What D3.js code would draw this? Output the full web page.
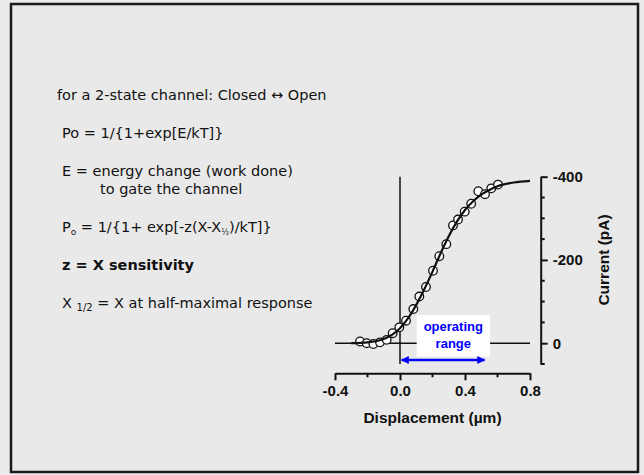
<!DOCTYPE html>
<meta charset="utf-8">
<style>
  body { margin: 0; background: #ebebeb; }
  .note { font-family: "DejaVu Sans", "Noto Sans", sans-serif; font-size: 14.5px; fill: #111; }
  .axis text { font-family: "Liberation Sans", Arial, sans-serif; font-weight: bold; font-size: 15px; fill: #111; }
  .axis path, .axis line { stroke: #111; stroke-width: 2px; }
  .title { font-family: "Liberation Sans", Arial, sans-serif; font-weight: bold; font-size: 15.5px; fill: #111; }
</style>
<body>
<script src="https://d3js.org/d3.v7.min.js"></script>
<script>
  // measured points (displacement in um, current in pA)
  var dispX = [-0.246, -0.205, -0.164, -0.123, -0.082, -0.045, -0.004, 0.037, 0.082, 0.119, 0.160,
    0.203, 0.242, 0.285, 0.326, 0.357, 0.398, 0.438, 0.482, 0.523, 0.562, 0.603];
  var currY = [-4, 0, 2, -2, -8, -24, -38, -54, -82, -112, -135,
    -174, -209, -238, -283, -297, -316, -335, -365, -358, -372, -381];

  // fitted curve
  var fitX = [-0.3, -0.2, -0.1, -0.05, 0, 0.05, 0.1, 0.15, 0.2, 0.25, 0.3, 0.35, 0.4, 0.45, 0.5, 0.55, 0.6, 0.7, 0.8];
  var fitY = [0, -2, -10, -20, -36, -60, -92, -130, -172, -216, -257, -292, -320, -341, -357, -368, -377, -386, -390];

  var xTicks = [-0.4, 0.0, 0.4, 0.8];
  var xMinor = [-0.2, 0.2, 0.6];
  var yTicks = [-400, -200, 0];
  var yMinor = [-350, -300, -250, -150, -100, -50, 50];
  var rangeEnd = 0.52;

  var notes = [
    { t: "for a 2-state channel: Closed \u2194 Open", x: 57, y: 100 },
    { t: "Po = 1/{1+exp[E/kT]}", x: 62, y: 138 },
    { t: "E = energy change (work done)", x: 62, y: 176 },
    { t: "to gate the channel", x: 100, y: 194 }
  ];

  var svg = d3.select("body").append("svg")
    .attr("width", 644)
    .attr("height", 475);

  svg.append("rect")
    .attr("x", 11).attr("y", 4)
    .attr("width", 627).attr("height", 468)
    .attr("fill", "#e9e9e9")
    .attr("stroke", "#1a1a1a")
    .attr("stroke-width", 2.5);

  var x = d3.scaleLinear().domain([-0.4, 0.8]).range([335, 530]);
  var y = d3.scaleLinear().domain([50, -400]).range([364, 176.7]);

  // text block
  svg.selectAll("text.note0")
    .data(notes)
    .enter().append("text")
    .attr("class", "note")
    .attr("x", function (d) { return d.x; })
    .attr("y", function (d) { return d.y; })
    .text(function (d) { return d.t; });

  var p = svg.append("text").attr("class", "note").attr("x", 62).attr("y", 232);
  p.append("tspan").text("P");
  p.append("tspan").attr("font-size", "9px").attr("dy", 3).text("o");
  p.append("tspan").attr("dy", -3).text(" = 1/{1+ exp[-z(X-X");
  p.append("tspan").attr("font-size", "8px").attr("dy", 3).text("\u00bd");
  p.append("tspan").attr("dy", -3).text(")/kT]}");

  svg.append("text").attr("class", "note")
    .attr("x", 62).attr("y", 270)
    .attr("font-weight", "bold")
    .attr("font-size", "13.5px")
    .text("z = X sensitivity");

  var h = svg.append("text").attr("class", "note").attr("x", 62).attr("y", 308);
  h.append("tspan").text("X ");
  h.append("tspan").attr("font-size", "10px").attr("dy", 3).text("1/2");
  h.append("tspan").attr("dy", -3).text(" = X at half-maximal response");

  // axes
  var xAxis = svg.append("g")
    .attr("class", "axis")
    .attr("transform", "translate(0,373.3)")
    .call(d3.axisBottom(x).tickValues(xTicks).tickSizeInner(7).tickSizeOuter(0).tickPadding(5)
      .tickFormat(function (d) { return d.toFixed(1); }));
  xAxis.selectAll(".minor")
    .data(xMinor)
    .enter().append("line")
    .attr("x1", function (d) { return x(d); })
    .attr("x2", function (d) { return x(d); })
    .attr("y1", 0).attr("y2", 4)
    .attr("stroke", "#111").attr("stroke-width", 2);

  var yAxis = svg.append("g")
    .attr("class", "axis")
    .attr("transform", "translate(540.7,0)")
    .call(d3.axisRight(y).tickValues(yTicks).tickSizeInner(7).tickSizeOuter(0).tickPadding(5)
      .tickFormat(function (d) { return String(d); }));
  yAxis.selectAll(".minor")
    .data(yMinor)
    .enter().append("line")
    .attr("y1", function (d) { return y(d); })
    .attr("y2", function (d) { return y(d); })
    .attr("x1", 0).attr("x2", 4)
    .attr("stroke", "#111").attr("stroke-width", 2);

  svg.append("text").attr("class", "title")
    .attr("x", x(0.2)).attr("y", 423)
    .attr("text-anchor", "middle")
    .text("Displacement (\u00b5m)");

  svg.append("text").attr("class", "title")
    .attr("transform", "translate(609," + y(-200) + ") rotate(-90)")
    .attr("text-anchor", "middle")
    .text("Current (pA)");

  // zero lines
  svg.append("line")
    .attr("x1", x(-0.4)).attr("x2", x(0.8))
    .attr("y1", y(0)).attr("y2", y(0))
    .attr("stroke", "#111").attr("stroke-width", 1.5);
  svg.append("line")
    .attr("x1", x(0)).attr("x2", x(0))
    .attr("y1", y(-400)).attr("y2", y(50))
    .attr("stroke", "#111").attr("stroke-width", 1.5);

  // operating range box
  svg.append("rect")
    .attr("x", x(0.103)).attr("y", 315)
    .attr("width", x(0.554) - x(0.103)).attr("height", 41.7)
    .attr("fill", "#fff");
  svg.selectAll(".op")
    .data(["operating", "range"])
    .enter().append("text")
    .attr("x", x(0.328))
    .attr("y", function (d, i) { return 331 + i * 16.5; })
    .attr("text-anchor", "middle")
    .attr("font-family", "Liberation Sans, Arial, sans-serif")
    .attr("font-weight", "bold")
    .attr("font-size", "13px")
    .attr("fill", "#0000ff")
    .text(function (d) { return d; });

  var defs = svg.append("defs");
  defs.append("marker")
    .attr("id", "ah")
    .attr("viewBox", "0 0 10 10")
    .attr("refX", 9).attr("refY", 5)
    .attr("markerWidth", 3.2).attr("markerHeight", 3.2)
    .attr("orient", "auto-start-reverse")
    .append("path").attr("d", "M0,0L10,5L0,10z").attr("fill", "#0000ff");
  svg.append("line")
    .attr("x1", x(0.01)).attr("x2", x(rangeEnd))
    .attr("y1", 360).attr("y2", 360)
    .attr("stroke", "#0000ff").attr("stroke-width", 2.5)
    .attr("marker-start", "url(#ah)")
    .attr("marker-end", "url(#ah)");

  // data circles
  svg.selectAll(".pt")
    .data(d3.zip(dispX, currY))
    .enter().append("circle")
    .attr("cx", function (d) { return x(d[0]); })
    .attr("cy", function (d) { return y(d[1]); })
    .attr("r", 4.3)
    .attr("fill", "#fff")
    .attr("stroke", "#111")
    .attr("stroke-width", 1.3);

  // fit curve
  var line = d3.line()
    .x(function (d) { return x(d[0]); })
    .y(function (d) { return y(d[1]); })
    .curve(d3.curveMonotoneX);
  svg.append("path")
    .datum(d3.zip(fitX, fitY))
    .attr("d", line)
    .attr("fill", "none")
    .attr("stroke", "#111")
    .attr("stroke-width", 2.2);
</script>
</body>
